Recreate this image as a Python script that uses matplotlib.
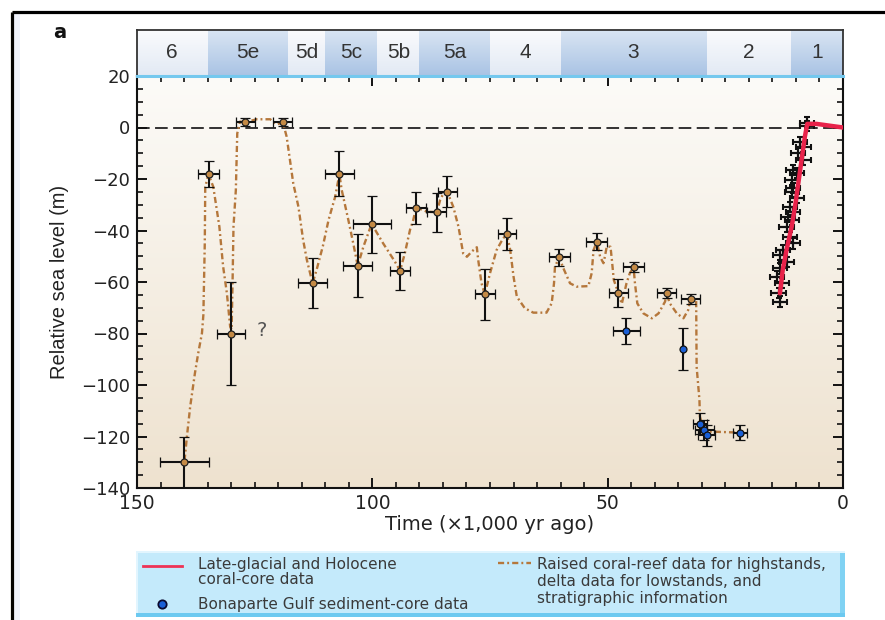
import numpy as np
import matplotlib
matplotlib.use('Agg')
import matplotlib.pyplot as plt
from matplotlib import font_manager
from matplotlib.ticker import MultipleLocator
from matplotlib.colors import to_rgb
from matplotlib.patches import Rectangle

# ---------------- data ----------------
stage_edges = [150, 135, 118, 110, 99, 90, 75, 60, 29, 11, 0]
stage_labels = ['6', '5e', '5d', '5c', '5b', '5a', '4', '3', '2', '1']

curve_age = [139.9, 139.4, 138.7, 137.7, 137.0, 136.2, 135.9, 135.6, 135.5, 134.8,
             133.8, 133.2, 132.5, 131.7, 130.9, 130.2, 129.9, 129.7, 129.5, 129.0,
             128.7, 128.1, 127.0, 124.6, 121.7, 120.3, 119.0, 118.2, 116.8, 115.7,
             114.7, 113.9, 112.7, 111.8, 110.5, 109.3, 107.9, 107.0, 106.5, 105.1,
             104.2, 103.1, 101.9, 100.5, 100.1, 97.7, 95.2, 94.1, 93.1, 92.0,
             91.3, 90.7, 88.4, 86.3, 85.6, 84.9, 84.1, 82.8, 81.7, 80.7,
             79.9, 78.9, 77.8, 77.5, 76.8, 76.1, 75.0, 73.6, 72.2, 71.4,
             70.7, 70.0, 69.3, 67.6, 65.8, 63.0, 61.9, 61.4, 61.2, 60.3,
             59.4, 58.0, 56.6, 54.1, 53.4, 53.0, 52.3, 51.6, 50.9, 50.6,
             50.2, 49.4, 49.1, 48.7, 47.7, 47.0, 46.0, 45.3, 44.5, 44.2,
             43.7, 42.4, 40.6, 39.2, 37.8, 37.5, 36.8, 35.3, 33.9, 32.9,
             32.4, 31.2, 31.1, 30.5, 30.4, 29.5, 21.9]
curve_level = [-129.4, -120.1, -108.4, -95.5, -87.7, -79.9, -72.8, -45.0, -23.0, -18.2,
               -23.0, -30.1, -38.5, -54.0, -64.4, -77.4, -78.5, -60.5, -38.5, -24.3,
               -2.3, 2.3, 2.0, 3.2, 3.2, 1.2, 2.0, -3.6, -21.7, -30.8,
               -43.7, -51.5, -60.5, -55.0, -46.0, -35.9, -26.9, -18.2, -24.3, -35.9,
               -43.7, -53.7, -46.3, -39.2, -37.6, -45.0, -52.1, -55.6, -48.9, -39.8,
               -35.9, -31.0, -32.7, -32.9, -28.2, -25.6, -24.9, -30.8, -38.5, -48.9,
               -50.2, -48.2, -46.5, -51.5, -60.5, -64.8, -56.6, -47.6, -43.0, -41.5,
               -47.6, -57.9, -65.7, -70.2, -71.9, -71.9, -68.3, -60.5, -54.1, -50.4,
               -54.7, -60.5, -61.8, -61.6, -56.6, -47.6, -44.3, -50.2, -52.7, -50.2,
               -46.3, -46.3, -51.5, -59.2, -64.4, -68.5, -60.5, -56.6, -54.3, -60.5,
               -68.3, -72.2, -74.1, -72.2, -67.6, -64.4, -68.3, -72.2, -74.1, -70.9,
               -66.6, -67.0, -92.9, -105.8, -112.3, -118.0, -118.5]

# raised coral-reef / delta data points
reef_age = [140.0, 134.8, 130.0, 127.0, 119.0, 112.7, 107.0, 103.1, 100.1, 94.1,
            90.8, 86.3, 84.1, 76.1, 71.4, 60.3, 52.3, 47.7, 44.5, 37.5, 32.4]
reef_level = [-130.0, -18.0, -80.0, 2.0, 2.0, -60.5, -18.0, -53.7, -37.6, -55.6,
              -31.2, -32.9, -24.9, -64.8, -41.5, -50.4, -44.3, -64.4, -54.3, -64.4, -66.6]
reef_age_err = [5.2, 2.3, 3.0, 2.0, 2.0, 3.1, 3.1, 3.1, 4.1, 2.1,
                2.1, 2.0, 2.0, 2.1, 2.0, 2.2, 2.2, 2.0, 2.2, 2.1, 2.1]
reef_level_err = [10.0, 5.0, 20.0, 1.5, 1.5, 9.7, 8.7, 12.3, 11.0, 7.4,
                  6.3, 7.5, 6.0, 10.0, 6.2, 3.2, 3.2, 5.4, 2.0, 2.0, 2.0]

# Bonaparte Gulf sediment-core data
bona_age = [46.0, 34.1, 30.4, 29.5, 29.0, 21.9]
bona_level = [-78.9, -86.0, -115.0, -117.5, -119.5, -118.5]
bona_age_err = [2.8, 0.0, 1.5, 2.0, 1.8, 1.5]
bona_level_err = [5.0, 8.3, 4.0, 4.0, 4.0, 3.0]

# Late-glacial and Holocene coral-core data
holo_line_age = [13.4, 12.8, 12.0, 10.9, 10.2, 9.5, 8.8, 8.1, 7.6, 5.6, 0.0]
holo_line_level = [-64.4, -55.3, -47.6, -38.5, -30.8, -21.7, -12.6, -3.6, 1.4, 1.4, 0.0]
holo_age = [7.7, 7.7, 9.1, 8.4, 9.5, 8.4, 10.6, 9.8, 10.9, 10.6, 10.9, 9.8, 11.3, 10.6,
            11.6, 10.9, 12.0, 11.3, 10.6, 12.7, 13.4, 12.0, 13.4, 14.1, 13.0, 13.7, 13.4]
holo_level = [1.9, 0.6, -5.5, -7.5, -10.0, -12.6, -16.5, -17.8, -20.4, -23.6, -24.9,
              -27.5, -30.8, -32.7, -34.6, -35.9, -38.5, -42.4, -45.0, -47.6, -49.5,
              -52.1, -54.7, -57.9, -60.5, -64.4, -67.6]

# ---------------- style helpers ----------------
names = {f.name for f in font_manager.fontManager.ttflist}
SANS = 'Liberation Sans' if 'Liberation Sans' in names else 'DejaVu Sans'
plt.rcParams['font.family'] = ['DejaVu Sans']

W, H = 885, 620
fig = plt.figure(figsize=(W / 100, H / 100), dpi=100)
fig.patch.set_facecolor('white')


def vgrad(top, bottom, n=64):
    a = np.linspace(0, 1, n)[:, None, None]
    return (1 - a) * np.array(to_rgb(top)) + a * np.array(to_rgb(bottom))


BROWN = '#b5773b'
DASHDOT = (0, (2.6, 1.3, 0.8, 1.3))

# ---------------- main axes ----------------
ax = fig.add_axes([137 / W, 1 - 488 / H, 706 / W, 412 / H])
ax.imshow(vgrad('#fcfbf8', '#eee2cf'), extent=(150, 0, -140, 20), aspect='auto',
          zorder=0, interpolation='bilinear')
ax.set_xlim(150, 0)
ax.set_ylim(-140, 20)

ax.axhline(0, color='#222222', lw=1.3, dashes=(7, 3), zorder=1)

ax.plot(curve_age, curve_level, color=BROWN, lw=1.7, linestyle=DASHDOT, zorder=2)

ax.errorbar(holo_age, holo_level, xerr=1.5, yerr=2.0, fmt='none', ecolor='#111111',
            elinewidth=1.6, capsize=2.0, capthick=1.5, zorder=3)
ax.plot(holo_line_age, holo_line_level, color='#e8234a', lw=3.2, zorder=4,
        solid_capstyle='round')

ax.errorbar(reef_age, reef_level, xerr=reef_age_err, yerr=reef_level_err, fmt='o',
            ms=5, mfc='#c48a45', mec='#222222', mew=0.9, ecolor='#111111',
            elinewidth=1.5, capsize=3.5, capthick=1.5, zorder=5)
ax.errorbar(bona_age, bona_level, xerr=bona_age_err, yerr=bona_level_err, fmt='o',
            ms=5, mfc='#1a5fd6', mec='#111111', mew=0.9, ecolor='#111111',
            elinewidth=1.5, capsize=3.5, capthick=1.5, zorder=5)

ax.text(123.6, -79, '?', fontsize=14, color='#555555', ha='center', va='center', zorder=6)

ax.xaxis.set_major_locator(MultipleLocator(50))
ax.xaxis.set_minor_locator(MultipleLocator(5))
ax.yaxis.set_major_locator(MultipleLocator(20))
ax.yaxis.set_minor_locator(MultipleLocator(5))
ax.tick_params(which='both', direction='in', top=True, right=True, color='#111111')
ax.tick_params(which='major', length=7, width=1.4)
ax.tick_params(which='minor', length=4, width=1.2)
ax.tick_params(axis='x', which='major', labelsize=13.5, pad=4.5, labelcolor='#222222')
ax.tick_params(axis='y', which='major', labelsize=13, pad=5, labelcolor='#222222')
for s in ax.spines.values():
    s.set_linewidth(1.5)
    s.set_color('#111111')

ax.set_xlabel('Time (×1,000 yr ago)', fontsize=14, color='#222222')
ax.xaxis.set_label_coords(0.5, -0.066)
ax.set_ylabel('Relative sea level (m)', fontsize=14.5, color='#222222', family=SANS)
ax.yaxis.set_label_coords(-0.097, 0.5)

# ---------------- isotope-stage band ----------------
band = fig.add_axes([137 / W, 1 - 76 / H, 706 / W, 46 / H])
for i, lab in enumerate(stage_labels):
    x0, x1 = stage_edges[i], stage_edges[i + 1]
    if i % 2 == 1:
        g = vgrad('#d9e5f3', '#a9c3e4')
    else:
        g = vgrad('#fafbfd', '#e2e9f4')
    band.imshow(g, extent=(x0, x1, 0, 1), aspect='auto', interpolation='bilinear')
    band.text((x0 + x1) / 2, 0.5, lab, ha='center', va='center', fontsize=15,
              color='#333333', family=SANS)
band.set_xlim(150, 0)
band.set_ylim(0, 1)
band.set_xticks([])
band.set_yticks([])
for s in band.spines.values():
    s.set_linewidth(1.3)
    s.set_color('#333333')
band.spines['bottom'].set_color('#74c8ee')
band.spines['bottom'].set_linewidth(2.2)

# ---------------- frame, panel label and legend ----------------
ov = fig.add_axes([0, 0, 1, 1], zorder=10)
ov.set_xlim(0, W)
ov.set_ylim(H, 0)
ov.axis('off')
ov.patch.set_alpha(0)

ov.add_patch(Rectangle((13, 13), 7, H - 13, facecolor='#eef1fb', edgecolor='none'))
ov.plot([11.5, 11.5], [11.5, H], color='black', lw=2.3, solid_capstyle='butt')
ov.plot([11.5, W], [11.5, 11.5], color='black', lw=2.3, solid_capstyle='butt')

ov.text(60, 33, 'a', fontsize=14, fontweight='bold', ha='center', va='center',
        color='#111111')

# legend box
ov.add_patch(Rectangle((136, 551), 709, 66, facecolor='#c4eafb', edgecolor='none'))
ov.add_patch(Rectangle((136, 551), 709, 2, facecolor='#e2f5fe', edgecolor='none'))
ov.add_patch(Rectangle((136, 551), 2, 66, facecolor='#e2f5fe', edgecolor='none'))
ov.add_patch(Rectangle((840, 553), 5, 64, facecolor='#80d2f3', edgecolor='none'))
ov.add_patch(Rectangle((136, 613), 709, 4, facecolor='#6cc9f0', edgecolor='none'))

ov.plot([143, 182], [566, 566], color='#ee3355', lw=2.0)
ov.plot([162], [604], marker='o', ms=6, mfc='#1a5fd6', mec='#0a0a30', mew=1.3)
ov.plot([498, 531], [563, 563], color=BROWN, lw=1.7, linestyle=DASHDOT)

LTXT = dict(fontsize=11, color='#3a3a3a', ha='left', va='center')
ov.text(198, 564, 'Late-glacial and Holocene', **LTXT)
ov.text(198, 580, 'coral-core data', **LTXT)
ov.text(198, 604, 'Bonaparte Gulf sediment-core data', **LTXT)
ov.text(537, 564, 'Raised coral-reef data for highstands,', **LTXT)
ov.text(537, 581, 'delta data for lowstands, and', **LTXT)
ov.text(537, 598, 'stratigraphic information', **LTXT)

fig.savefig('out.png', dpi=100, facecolor='white')
